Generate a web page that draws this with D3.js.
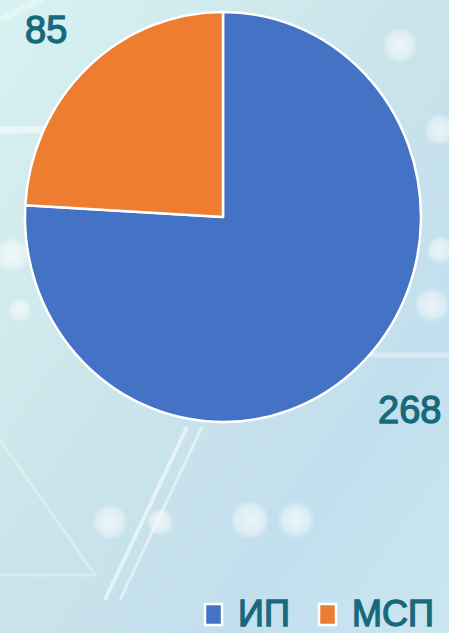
<!DOCTYPE html>
<html><head><meta charset="utf-8">
<script src="https://cdn.jsdelivr.net/npm/d3@7"></script>
<style>html,body{margin:0;padding:0;overflow:hidden;}svg{display:block;}</style>
</head><body>
<svg id="c" width="449" height="633"></svg>
<script>
const categories = ["ИП", "МСП"];
const values = [268, 85];
const colors = ["#4472C4", "#ED7D31"];

const W = 449, H = 633;
const svg = d3.select("#c");
const defs = svg.append("defs");

// background gradient
const bg = defs.append("linearGradient").attr("id","bg").attr("x1","0").attr("y1","0").attr("x2","1").attr("y2","1");
bg.append("stop").attr("offset","0").attr("stop-color","#d8f2f2");
bg.append("stop").attr("offset","0.45").attr("stop-color","#cbe4ea");
bg.append("stop").attr("offset","0.75").attr("stop-color","#c2dfee");
bg.append("stop").attr("offset","1").attr("stop-color","#cae6f0");
svg.append("rect").attr("width",W).attr("height",H).attr("fill","url(#bg)");

const glow = defs.append("radialGradient").attr("id","glow");
glow.append("stop").attr("offset","0").attr("stop-color","#ffffff").attr("stop-opacity",0.9);
glow.append("stop").attr("offset","0.7").attr("stop-color","#ffffff").attr("stop-opacity",0.6);
glow.append("stop").attr("offset","1").attr("stop-color","#ffffff").attr("stop-opacity",0);

// decorative background lines (hex pattern)
const deco = svg.append("g").attr("stroke","#ffffff").attr("fill","none");
deco.append("path").attr("d","M0,130 L45,130").attr("stroke-width",7).attr("stroke-opacity",0.5);
deco.append("path").attr("d","M187,427 L105,600").attr("stroke-width",4).attr("stroke-opacity",0.55);
deco.append("path").attr("d","M202,427 L120,600").attr("stroke-width",3).attr("stroke-opacity",0.45);
deco.append("path").attr("d","M0,440 L95,575 L0,575").attr("stroke-width",3).attr("stroke-opacity",0.3);
deco.append("path").attr("d","M360,355 L449,355").attr("stroke-width",5).attr("stroke-opacity",0.4);
deco.append("path").attr("d","M0,20 L60,-10").attr("stroke-width",6).attr("stroke-opacity",0.35);

const bokeh = [[400,45,18],[440,130,16],[440,250,14],[432,305,18],[12,255,18],[110,522,18],[160,522,14],[250,520,20],[296,520,19],[20,310,12]];
svg.append("g").selectAll("circle").data(bokeh).join("circle")
  .attr("cx",d=>d[0]).attr("cy",d=>d[1]).attr("r",d=>d[2])
  .attr("fill","url(#glow)").attr("opacity",0.7);

// pie
const cx = 223, cy = 217, rx = 198, ry = 205;
const pie = d3.pie().sort(null).value(d=>d)(values);
const arc = d3.arc().innerRadius(0).outerRadius(rx);
const pg = svg.append("g").attr("transform",`translate(${cx},${cy}) scale(1,${ry/rx})`);
pg.selectAll("path").data(pie).join("path")
  .attr("d",arc)
  .attr("fill",(d,i)=>colors[i])
  .attr("stroke","#ffffff")
  .attr("stroke-width",2.5)
  .attr("vector-effect","non-scaling-stroke")
  .attr("stroke-linejoin","round");

// data labels
const lblColor = "#17697b";
const labelPos = [[378,423],[25,43]];
svg.append("g").selectAll("text").data(values).join("text")
  .attr("x",(d,i)=>labelPos[i][0]).attr("y",(d,i)=>labelPos[i][1])
  .attr("font-family","Liberation Sans, Arial, sans-serif")
  .attr("font-size",38)
  .attr("fill",lblColor)
  .attr("stroke",lblColor).attr("stroke-width",1.3)
  .text(d=>d);

// legend
const legX = [204, 318];
const items = svg.append("g").selectAll("g").data(categories).join("g")
  .attr("transform",(d,i)=>`translate(${legX[i]},0)`);
items.append("rect").attr("x",1).attr("y",604).attr("width",17).attr("height",21)
  .attr("fill",(d,i)=>colors[i]).attr("stroke","#ffffff").attr("stroke-width",2.5);
items.append("text")
  .attr("x",34).attr("y",626)
  .attr("font-family","Liberation Sans, Arial, sans-serif")
  .attr("font-size",36)
  .attr("fill",lblColor)
  .attr("stroke",lblColor).attr("stroke-width",1.3)
  .text(d=>d);
</script>
</body></html>
